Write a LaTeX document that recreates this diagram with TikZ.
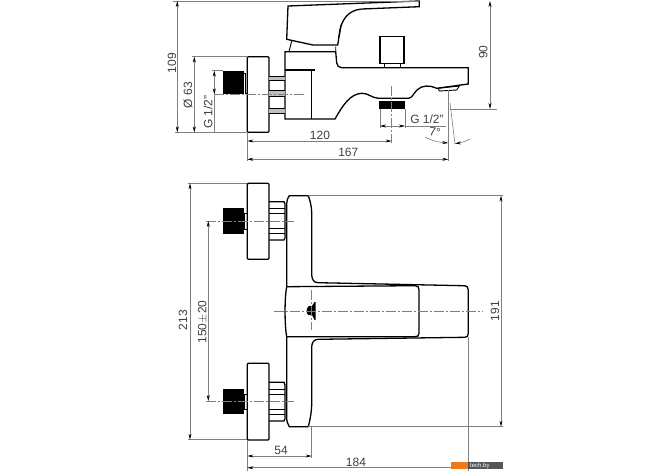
\documentclass[tikz,border=0pt]{standalone}
\usepackage{fontspec}
\setmainfont{Liberation Sans}
\usepackage{xcolor}
\usetikzlibrary{arrows.meta}
\definecolor{dimgray}{gray}{0.5}
\definecolor{shoporange}{HTML}{F07A1A}
\definecolor{shopgray}{HTML}{555555}
\tikzset{
	outline/.style={black,line width=1.3pt},
	thread/.style={black,fill=black},
	thin part/.style={black,line width=0.9pt},
	dimline/.style={dimgray,line width=0.6pt},
	dimarrow/.style={dimgray,line width=0.6pt,{Stealth[length=6pt,width=3pt,black]}-{Stealth[length=6pt,width=3pt,black]}},
	centerline/.style={dimgray,line width=0.5pt,dash pattern=on 10pt off 2pt on 2pt off 2pt},
	dimlabel/.style={text=black!75,font=\fontsize{12}{12}\selectfont,inner sep=0pt},
}
\begin{document}
\begin{tikzpicture}[x=1pt,y=-1pt]
	\useasboundingbox (0,0) rectangle (670,471);
	\fill[white] (0,0) rectangle (670,471);
	\draw[outline] (288,6) -- (419.3,1) -- (419.3,6.7) -- (362,9) .. controls (348,10) and (342,20) .. (340,30) -- (337.7,45) -- (313,45) -- (286.7,39.3) -- cycle;
	\draw[outline] (341,25) -- (339,37);
	\draw[thin part] (291.7,41) -- (289,51.7) (335.7,46.7) -- (335.7,51.7);
	\draw[outline] (285,51.7) -- (335.7,51.7) -- (336.7,63) .. controls (337,66) and (339,67.7) .. (341.7,67.7) -- (468.3,67.7) -- (468.3,84) -- (436.7,88.3) .. controls (430,85) and (422,85) .. (417,90) .. controls (413,94) and (412,98.3) .. (408.3,98.3) -- (378.3,98.3) .. controls (372,98) and (368,93) .. (361.7,93.3) .. controls (350,94) and (343,105) .. (335,119) -- (285,119) -- cycle;
	\draw[outline] (285,70) -- (315,70) (311.7,70) -- (311.7,119);
	\draw[outline] (380,36.7) rectangle (404,63.3);
	\draw[thin part] (384,63.3) rectangle (400,67.7);
	\draw[thin part] (438.3,88.3) -- (459.3,86) -- (456.7,90) -- (439.3,91) -- cycle;
	\draw[outline,rounded corners=1pt] (247.3,56.7) rectangle (269,132.3);
	\fill[gray!50] (269,76) rectangle (285,80) (269,90) rectangle (285,96.7) (269,108.3) rectangle (285,113.3);
	\draw[thin part] (269,76) -- (285,76) (269,80) -- (285,80) (269,90) -- (285,90) (269,96.7) -- (285,96.7) (269,108.3) -- (285,108.3) (269,113.3) -- (285,113.3);
	\fill[thread] (223.3,70.7) rectangle (244,94.3);
	\draw[thin part] (244,73) -- (245.5,73) -- (245.5,93) -- (247.3,93);
	\fill[thread] (379.3,100.5) rectangle (405,109.3);
	\draw[centerline] (214,94.3) -- (305,94.3);
	\draw[outline,rounded corners=1pt] (247.3,183.3) rectangle (269,259.3);
	\draw[outline,rounded corners=1pt] (247.3,363.3) rectangle (269,440);
	\fill[thread] (222.7,208.3) rectangle (244,234);
	\fill[thread] (222.7,389) rectangle (244,414.3);
	\draw[thin part] (244,213.3) rectangle (247.3,229.3);
	\draw[thin part] (244,394) rectangle (247.3,409.3);
	\draw[outline] (269,201.7) -- (284,201.7) -- (285,204) -- (285,238) -- (284,240) -- (269,240);
	\draw[thin part] (269,208) -- (285,208) (269,213) -- (285,213) (269,228) -- (285,228) (269,233) -- (285,233);
	\draw[outline] (269,382.3) -- (284,382.3) -- (285,385) -- (285,419) -- (284,421) -- (269,421);
	\draw[thin part] (269,389) -- (285,389) (269,394) -- (285,394) (269,409) -- (285,409) (269,414) -- (285,414);
	\draw[outline] (286.7,286.7) -- (286.7,203) .. controls (287,200) and (288,197) .. (289.3,195.7) -- (308.3,195.7) .. controls (310,200) and (311.7,207) .. (311.7,213) -- (311.7,275) .. controls (312,280) and (314,282.7) .. (318.3,282.7) -- (463,285.7) .. controls (467,285.7) and (468.3,287) .. (468.3,290) -- (468.3,333.3) .. controls (468.3,336) and (467,337.3) .. (465,337.3) -- (318.3,339.3) .. controls (314,339.5) and (312,342) .. (311.7,346.7) -- (311.7,403) .. controls (311.7,412) and (310,420) .. (308.3,426.7) -- (289.3,426.7) .. controls (288,424) and (286.7,422) .. (286.7,418) -- (286.7,336.7);
	\draw[outline] (286.7,286.7) -- (415,285.7) .. controls (418,285.7) and (419,287) .. (419,290) -- (419,333) .. controls (419,336) and (418,336.7) .. (415,336.7) -- (286.7,336.7) .. controls (284.5,325) and (284.5,298) .. (286.7,286.7);
	\fill[black] (314.5,302) -- (315.7,302) -- (315.7,320) -- (314.5,320) -- (312,315) .. controls (308,316) and (306.7,314) .. (306.7,311) .. controls (306.7,307) and (309,305) .. (312,306) -- cycle;
	\draw[centerline] (391.7,86) -- (391.7,143);
	\draw[centerline] (206,221) -- (294,221);
	\draw[centerline] (206,401) -- (294,401);
	\draw[centerline] (274,311) -- (483.3,311);
	\draw[centerline] (311.7,290) -- (311.7,330);
	\draw[dimline] (173,1) -- (419,1);
	\draw[dimline] (175,132.3) -- (247.3,132.3);
	\draw[dimline] (192,56.7) -- (247.3,56.7);
	\draw[dimline] (212,70.7) -- (223.3,70.7);
	\draw[dimline] (450,109) -- (497,109);
	\draw[dimline] (380,109.3) -- (380,128) (405,109.3) -- (405,128);
	\draw[dimline] (247.3,132.3) -- (247.3,161);
	\draw[dimline] (448.3,90) -- (448.3,161);
	\draw[dimline] (450,103) -- (455,144);
	\draw[dimline] (405,126) -- (446,126);
	\draw[dimline] (188,183.3) -- (247.3,183.3);
	\draw[dimline] (188,439.7) -- (247.3,439.7);
	\draw[dimline] (308.3,195.7) -- (503,195.7);
	\draw[dimline] (308.3,426.7) -- (503,426.7);
	\draw[dimline] (247.3,440) -- (247.3,471);
	\draw[dimline] (311.7,427) -- (311.7,458);
	\draw[dimline] (468.3,337) -- (468.3,471);
	\draw[dimarrow] (177.3,1) -- (177.3,132.3);
	\draw[dimarrow] (194.3,56.7) -- (194.3,132.3);
	\draw[dimarrow] (214.3,70.7) -- (214.3,94.3);
	\draw[dimline] (214.3,94.3) -- (214.3,132.3);
	\draw[dimarrow] (490,1) -- (490,109);
	\draw[dimarrow] (380,126) -- (405,126);
	\draw[dimarrow] (247.3,141) -- (391.7,141);
	\draw[dimarrow] (247.3,159.3) -- (448.3,159.3);
	\draw[dimline,-{Stealth[length=6pt,width=3pt,black]}] (425,137) .. controls (431,140) and (436,142) .. (448.3,143);
	\draw[dimline,{Stealth[length=6pt,width=3pt,black]}-] (455,143.5) .. controls (460,143) and (465,141.5) .. (470,139);
	\draw[dimarrow] (190,183.3) -- (190,439.7);
	\draw[dimarrow] (208.3,221) -- (208.3,401);
	\draw[dimarrow] (501,195.7) -- (501,426.7);
	\draw[dimarrow] (247.3,456) -- (311.7,456);
	\draw[dimarrow] (247.3,467.7) -- (468.3,467.7);
	\node[dimlabel,rotate=90] (lbl109) at (172,63) {109};
	\node[dimlabel,rotate=90] (lblphi) at (188,95) {Ø 63};
	\node[dimlabel,rotate=90] (lblgside) at (208,112) {G 1/2"};
	\node[dimlabel,rotate=90] (lbl90) at (483.3,52) {90};
	\node[dimlabel] (lblgbot) at (427,119) {G 1/2"};
	\node[dimlabel] (lbl120) at (320,135) {120};
	\node[dimlabel] (lbl167) at (348.3,152.7) {167};
	\node[dimlabel,rotate=-7] (lbl7) at (435,132.3) {7°};
	\node[dimlabel,rotate=90] (lbl213) at (183,320) {213};
	\node[dimlabel,rotate=90] (lbl150) at (202.7,322) {150$\pm$20};
	\node[dimlabel,rotate=90] (lbl191) at (495,311) {191};
	\node[dimlabel] (lbl54) at (281,450) {54};
	\node[dimlabel] (lbl184) at (356,462) {184};
	\fill[shoporange] (451,462.3) rectangle (468,469);
	\fill[shopgray] (468,462.3) rectangle (503,469);
	\node[text=white,font=\fontsize{6}{6}\selectfont,inner sep=0pt,anchor=west] (shopmark) at (470,465.6) {tech.by};
\end{tikzpicture}
\end{document}
